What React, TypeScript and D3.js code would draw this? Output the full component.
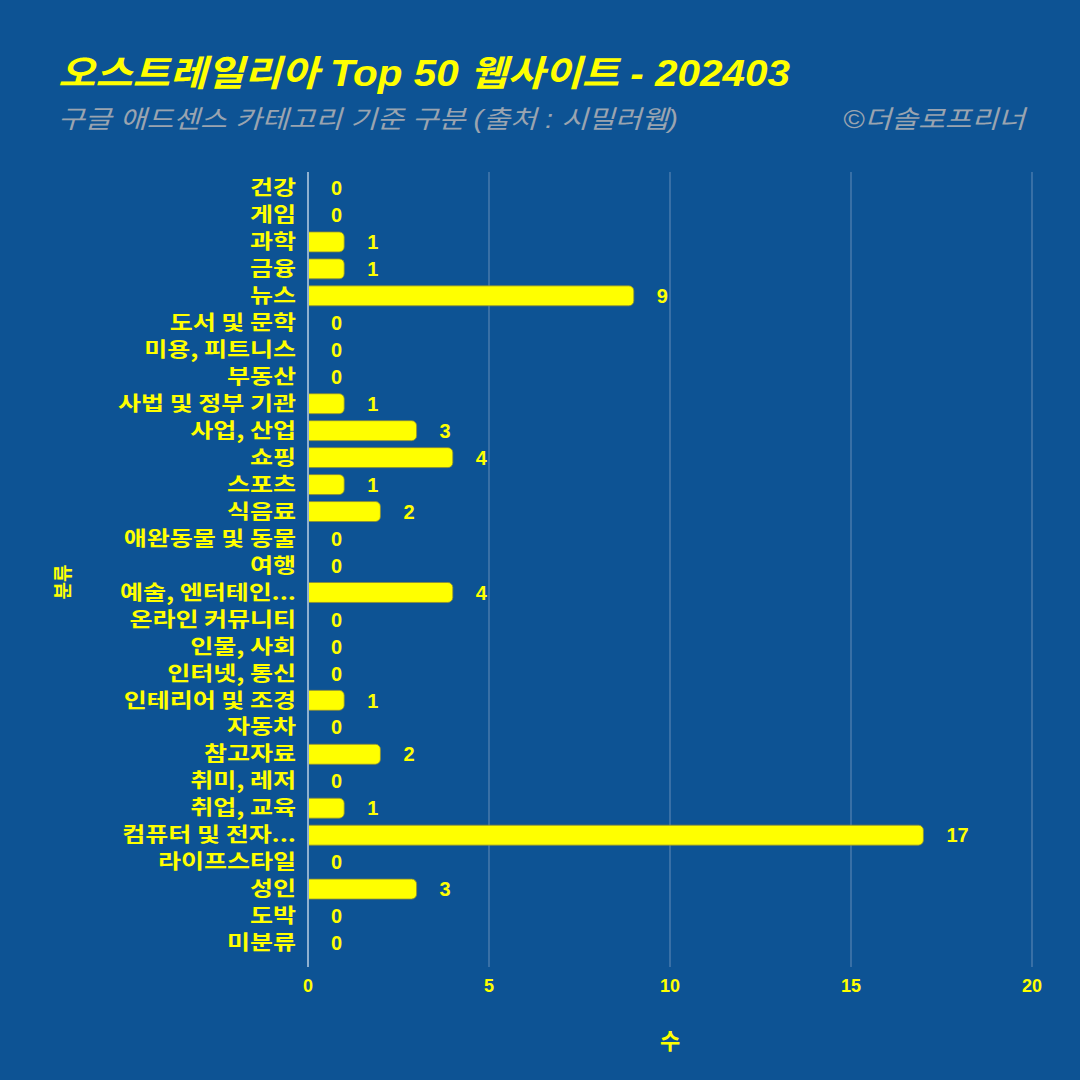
import React from "react";
import * as d3 from "d3";

const categories = [
  "건강", "게임", "과학", "금융", "뉴스", "도서 및 문학", "미용, 피트니스", "부동산",
  "사법 및 정부 기관", "사업, 산업", "쇼핑", "스포츠", "식음료", "애완동물 및 동물", "여행",
  "예술, 엔터테인...", "온라인 커뮤니티", "인물, 사회", "인터넷, 통신", "인테리어 및 조경",
  "자동차", "참고자료", "취미, 레저", "취업, 교육", "컴퓨터 및 전자...", "라이프스타일",
  "성인", "도박", "미분류",
];
const values = [0, 0, 1, 1, 9, 0, 0, 0, 1, 3, 4, 1, 2, 0, 0, 4, 0, 0, 0, 1, 0, 2, 0, 1, 17, 0, 3, 0, 0];
const xTicks = [0, 5, 10, 15, 20];

const title = "오스트레일리아 Top 50 웹사이트 - 202403";
const subtitle = "구글 애드센스 카테고리 기준 구분 (출처 : 시밀러웹)";
const credit = "©더솔로프리너";

const FONT = "'Liberation Sans', 'Noto Sans CJK KR', Arial, sans-serif";
const KFONT = "'Noto Sans CJK KR', 'Liberation Sans', sans-serif";
const YELLOW = "#ffff00";
const BG = "#0d5394";

export default function App() {
  const W = 1080, H = 1080;
  const x = d3.scaleLinear().domain([0, 20]).range([308, 1032]);
  const y = d3.scaleBand<string>().domain(categories).range([174.5, 956.5]).paddingInner(0.26).paddingOuter(0.13);
  const bh = y.bandwidth();
  const r = 5;

  const barPath = (v: number, top: number) => {
    const x0 = x(0), x1 = x(v);
    const w = x1 - x0;
    const rr = Math.min(r, w / 2, bh / 2);
    const p = d3.path();
    p.moveTo(x0, top);
    p.lineTo(x1 - rr, top);
    p.arcTo(x1, top, x1, top + rr, rr);
    p.lineTo(x1, top + bh - rr);
    p.arcTo(x1, top + bh, x1 - rr, top + bh, rr);
    p.lineTo(x0, top + bh);
    p.closePath();
    return p.toString();
  };

  return (
    <svg width={W} height={H} style={{ display: "block", position: "absolute", left: 0, top: 0 }} fontFamily={FONT}>
      <rect x={0} y={0} width={W} height={H} fill={BG} />
      {/* grid */}
      {xTicks.filter((t) => t > 0).map((t) => (
        <line key={"g" + t} x1={x(t)} x2={x(t)} y1={172} y2={967} stroke="#6f94bd" strokeWidth={1.2} opacity={0.75} />
      ))}
      {/* bars */}
      {categories.map((c, i) => {
        const v = values[i];
        const top = y(c)!;
        return (
          <g key={c}>
            {v > 0 && <path d={barPath(v, top)} fill={YELLOW} stroke="#8a8a3a" strokeWidth={0.8} />}
            <text x={x(v) + 23} y={top + bh / 2} dy="0.36em" fill={YELLOW} fontSize={20} fontWeight="bold">
              {v}
            </text>
            <g transform={`translate(296,${top + bh / 2}) scale(1.25,1)`}>
              <text x={0} y={0} dy="0.36em" textAnchor="end" fill={YELLOW} fontSize={20} fontWeight="bold" fontFamily={KFONT}>
                {c}
              </text>
            </g>
          </g>
        );
      })}
      {/* y axis line */}
      <line x1={x(0)} x2={x(0)} y1={172} y2={967} stroke="#8fb0cf" strokeWidth={2} />
      {/* x tick labels */}
      {xTicks.map((t) => (
        <text key={"t" + t} x={x(t)} y={992} textAnchor="middle" fill={YELLOW} fontSize={18} fontWeight="bold">
          {t}
        </text>
      ))}
      <text x={670} y={1049} textAnchor="middle" fill={YELLOW} fontSize={22} fontWeight="bold" fontFamily={KFONT}>수</text>
      <text transform="translate(70,582) rotate(-90)" textAnchor="middle" fill={YELLOW} fontSize={19} fontWeight="bold" fontFamily={KFONT}>분류</text>
      {/* titles */}
      <text x={58} y={86} fill={YELLOW} fontSize={36} fontWeight="bold" fontStyle="italic" textLength={732} lengthAdjust="spacingAndGlyphs">{title}</text>
      <text x={58} y={128} fill="#9aa4b0" fontSize={25} fontStyle="italic" textLength={620} lengthAdjust="spacingAndGlyphs">{subtitle}</text>
      <text x={843} y={128} fill="#9aa4b0" fontSize={25} fontStyle="italic" textLength={182} lengthAdjust="spacingAndGlyphs">{credit}</text>
    </svg>
  );
}
